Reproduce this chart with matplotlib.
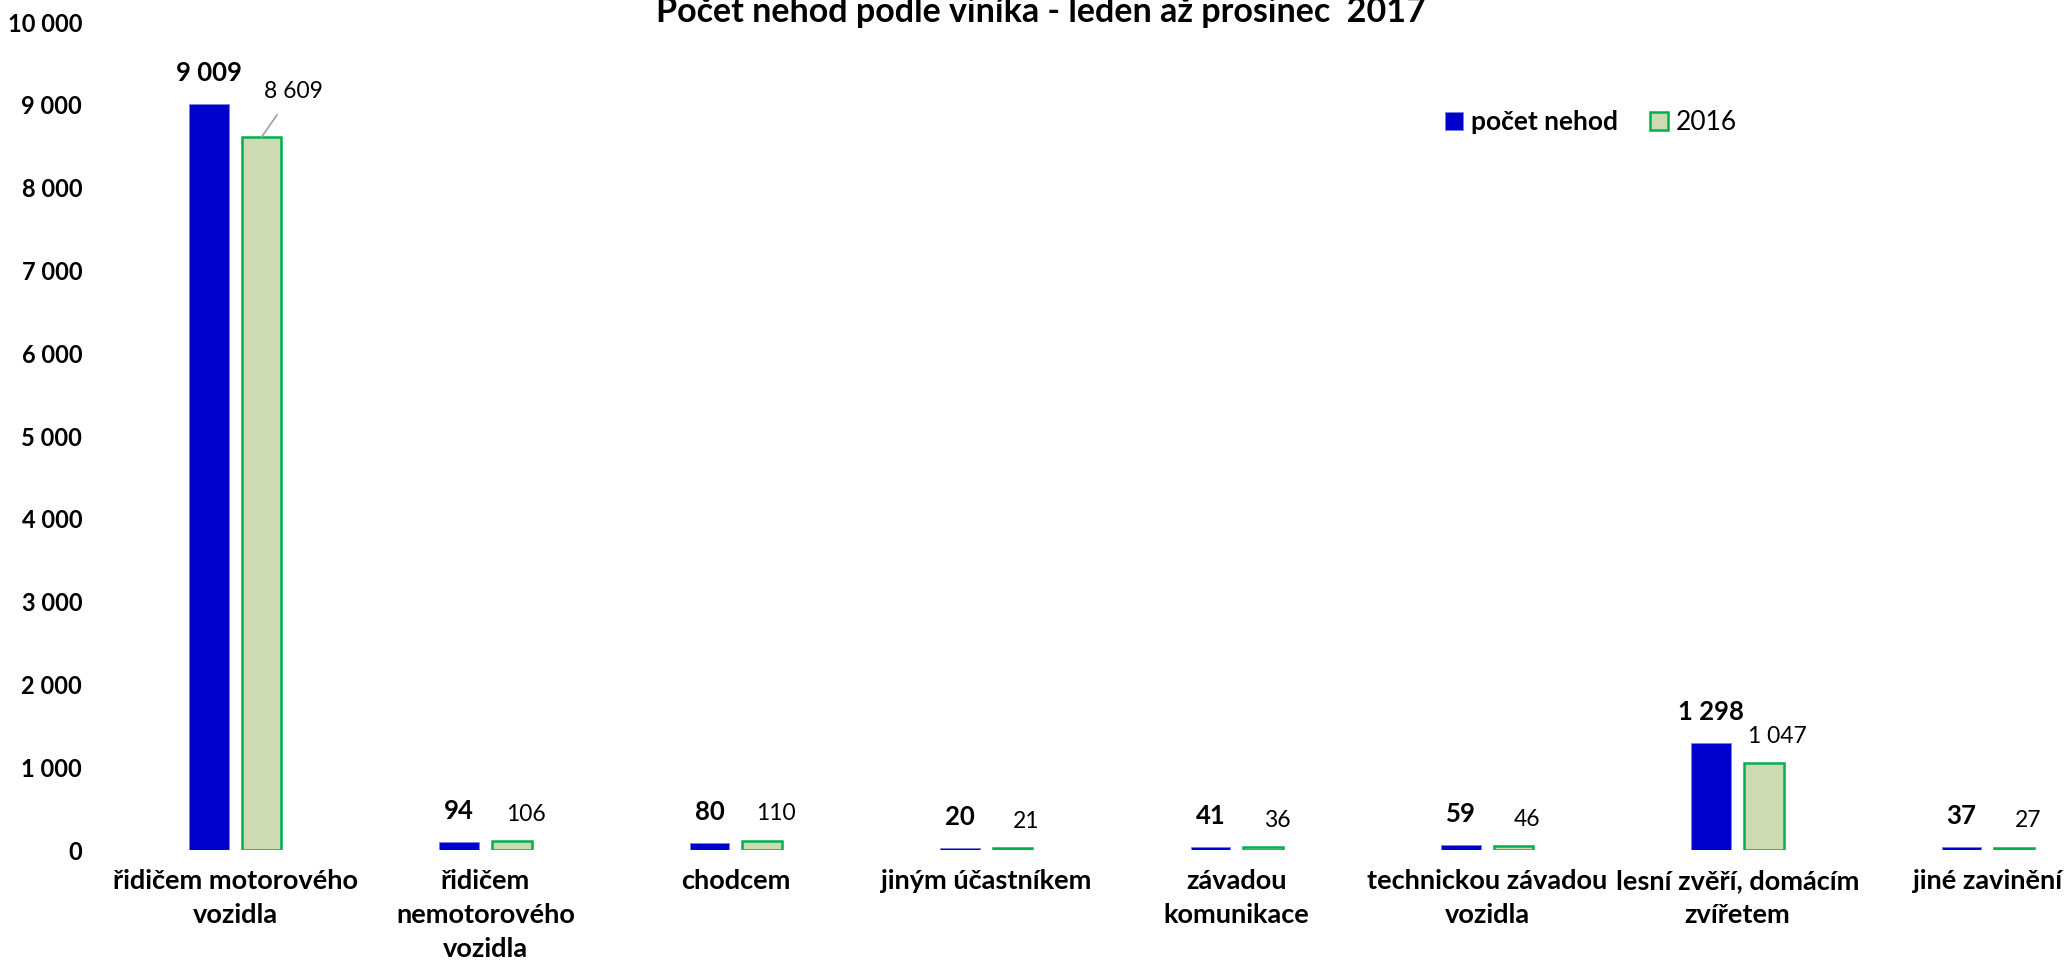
import matplotlib
matplotlib.use("Agg")
import matplotlib.pyplot as plt
from matplotlib.ticker import FuncFormatter, MultipleLocator
import numpy as np

# data
categories = ["řidičem motorového\nvozidla", "řidičem\nnemotorového\nvozidla", "chodcem",
              "jiným účastníkem", "závadou\nkomunikace", "technickou závadou\nvozidla",
              "lesní zvěří, domácím\nzvířetem", "jiné zavinění"]
nehody_2017 = [9009, 94, 80, 20, 41, 59, 1298, 37]
nehody_2016 = [8609, 106, 110, 21, 36, 46, 1047, 27]

title = "Počet nehod podle viníka - leden až prosinec  2017"
blue = "#0000CC"
green_fill = "#CEDAB2"
green_edge = "#00B050"

plt.rcParams['font.family'] = ['Lato', 'DejaVu Sans']

def fmt(v):
    return f"{v:,.0f}".replace(",", " ")

W, H = 2067, 971
fig = plt.figure(figsize=(W / 100, H / 100), dpi=100)
ax = fig.add_axes([110 / W, 1 - 850 / H, 2003 / W, (850 - 22) / H])

x = np.arange(len(categories))
bw = 0.158
off = 0.105
ax.bar(x - off, nehody_2017, bw, color=blue, edgecolor="#8080E0", linewidth=0.6, label="počet nehod")
ax.bar(x + off, nehody_2016, bw, color=green_fill, edgecolor=green_edge, linewidth=1.8, label="2016")

# data labels
for i, v in enumerate(nehody_2017):
    ax.annotate(fmt(v), (x[i] - off, v), xytext=(0, 31), textcoords="offset pixels",
                ha="center", va="center", fontsize=18.5, fontweight="bold")
for i, v in enumerate(nehody_2016):
    if i == 0:
        # first label moved off the bar with a leader line
        ax.annotate(fmt(v), (x[i] + off, v), xytext=(32, 46), textcoords="offset pixels",
                    ha="center", va="center", fontsize=16.5,
                    arrowprops=dict(arrowstyle="-", color="#A0A0A0", lw=1.2, shrinkA=9, shrinkB=0))
    else:
        ax.annotate(fmt(v), (x[i] + off, v), xytext=(14, 27), textcoords="offset pixels",
                    ha="center", va="center", fontsize=16.5)

ax.set_xlim(-0.5, len(categories) - 0.5)
ax.set_ylim(0, 10000)
ax.yaxis.set_major_locator(MultipleLocator(1000))
ax.yaxis.set_major_formatter(FuncFormatter(lambda v, p: fmt(v)))
ax.set_xticks(x)
ax.set_xticklabels(categories, fontsize=19.5, fontweight="bold", linespacing=1.5)
ax.tick_params(axis="x", length=0, pad=14)
ax.tick_params(axis="y", length=0, pad=20, labelsize=17)
for lab in ax.get_yticklabels():
    lab.set_fontweight("bold")
for s in ax.spines.values():
    s.set_visible(False)

fig.text(1041 / W, 1 - 22 / H, title, ha="center", va="baseline", fontsize=24.5, fontweight="bold")

leg = fig.legend(loc="center left", bbox_to_anchor=(1421 / W, 1 - 123 / H), ncol=2, frameon=False,
                 fontsize=19, handlelength=0.7, handleheight=0.7, handletextpad=0.3, columnspacing=1.2)
leg.get_texts()[0].set_fontweight("bold")

fig.savefig("out.png", dpi=100)
